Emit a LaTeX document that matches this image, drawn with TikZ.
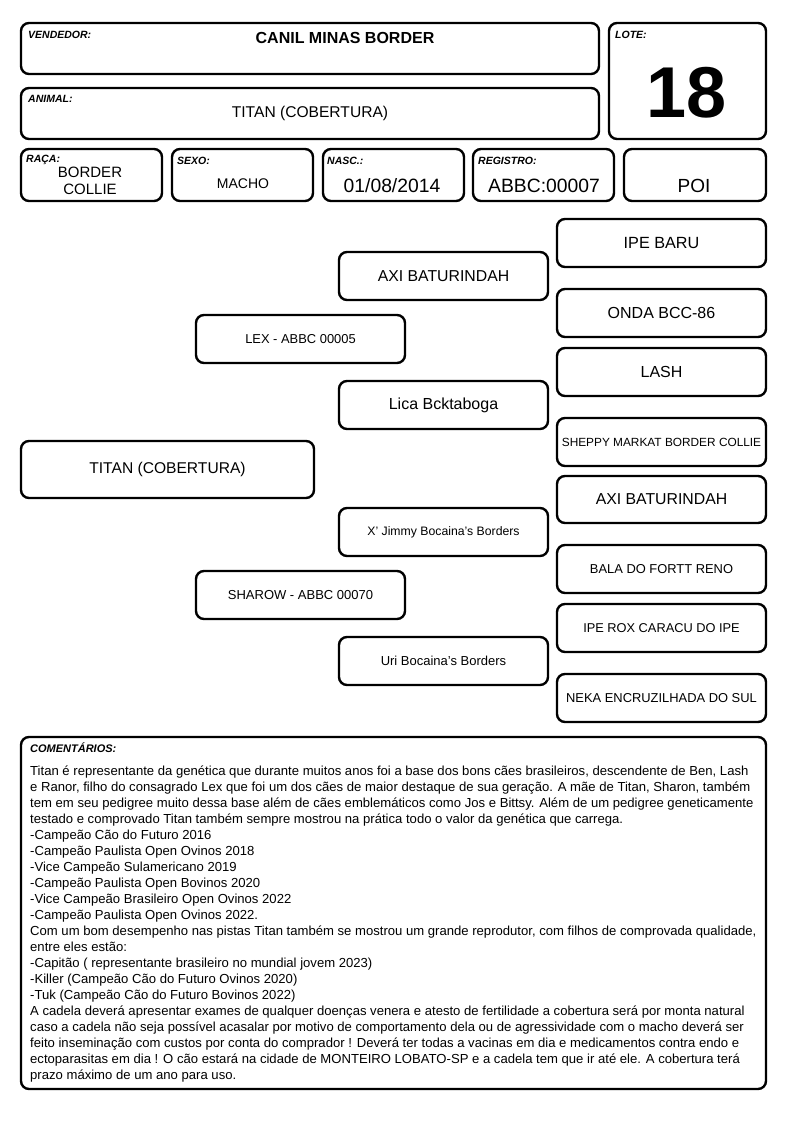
\documentclass[tikz,border=0pt]{standalone}
\usepackage{fontspec}
\setmainfont{Liberation Sans}
\begin{document}
\begin{tikzpicture}[x=1pt,y=-1pt,
  box/.style={draw=black,line width=2.4pt,rounded corners=8pt,inner sep=0pt,align=center,fill=white},
  lbl/.style={anchor=base west,inner sep=0pt,font=\fontsize{10.5}{12}\selectfont\bfseries\itshape},
  txt/.style={inner sep=0pt,align=center},
  cline/.style={anchor=base west,inner sep=0pt,font=\fontsize{13.1}{15}\selectfont}]
\useasboundingbox[fill=white] (0,0) rectangle (794,1123);
% header boxes
\node[box,minimum width=578pt,minimum height=51pt] (vend) at (310,48.5) {};
\node[box,minimum width=157pt,minimum height=116pt] (lote) at (687.5,81) {};
\node[box,minimum width=578pt,minimum height=51pt] (anim) at (310,113.5) {};
\node[box,minimum width=141pt,minimum height=52pt] (raca) at (91.5,175) {};
\node[box,minimum width=141pt,minimum height=52pt] (sexo) at (242.5,175) {};
\node[box,minimum width=141pt,minimum height=52pt] (nasc) at (393.5,175) {};
\node[box,minimum width=141pt,minimum height=52pt] (reg) at (543.5,175) {};
\node[box,minimum width=142pt,minimum height=52pt] (poi) at (695,175) {};
% header labels
\node[lbl] (lvend) at (28,39) {VENDEDOR:};
\node[lbl] (llote) at (615,39) {LOTE:};
\node[lbl] (lanim) at (28,103) {ANIMAL:};
\node[lbl] (lraca) at (26,163) {RAÇA:};
\node[lbl] (lsexo) at (177,165) {SEXO:};
\node[lbl] (lnasc) at (327,165) {NASC.:};
\node[lbl] (lreg) at (478,165) {REGISTRO:};
% header values
\node[txt,font=\fontsize{16}{18}\selectfont\bfseries] (tvend) at (345,38) {CANIL MINAS BORDER};
\node[txt,font=\fontsize{72}{72}\selectfont\bfseries] (tlote) at (687,93) {18};
\node[txt,font=\fontsize{15.6}{17}\selectfont] (tanim) at (310,113) {TITAN (COBERTURA)};
\node[txt,font=\fontsize{15}{17}\selectfont] (traca) at (90,181) {BORDER\\COLLIE};
\node[txt,font=\fontsize{14}{16}\selectfont] (tsexo) at (243,184) {MACHO};
\node[txt,font=\fontsize{19.3}{21}\selectfont] (tnasc) at (392,186) {01/08/2014};
\node[txt,font=\fontsize{19.3}{21}\selectfont] (treg) at (544,186) {ABBC:00007};
\node[txt,font=\fontsize{19}{21}\selectfont] (tpoi) at (694,186) {POI};
% pedigree column 4
\node[box,minimum width=209pt,minimum height=48pt,font=\fontsize{16.2}{18}\selectfont] (g1) at (661.5,243) {IPE BARU};
\node[box,minimum width=209pt,minimum height=48pt,font=\fontsize{16}{18}\selectfont] (g2) at (661.5,313) {ONDA BCC-86};
\node[box,minimum width=209pt,minimum height=48pt,font=\fontsize{16}{18}\selectfont] (g3) at (661.5,372) {LASH};
\node[box,minimum width=209pt,minimum height=48pt,font=\fontsize{11.85}{13}\selectfont] (g4) at (661.5,442) {SHEPPY MARKAT BORDER COLLIE};
\node[box,minimum width=209pt,minimum height=47pt,font=\fontsize{15.8}{18}\selectfont] (g5) at (661.5,499.5) {AXI BATURINDAH};
\node[box,minimum width=209pt,minimum height=48pt,font=\fontsize{12.9}{14}\selectfont] (g6) at (661.5,569) {BALA DO FORTT RENO};
\node[box,minimum width=209pt,minimum height=48pt,font=\fontsize{12.8}{14}\selectfont] (g7) at (661.5,628) {IPE ROX CARACU DO IPE};
\node[box,minimum width=209pt,minimum height=48pt,font=\fontsize{12.9}{14}\selectfont] (g8) at (661.5,698) {NEKA ENCRUZILHADA DO SUL};
% column 3
\node[box,minimum width=209pt,minimum height=48pt,font=\fontsize{15.8}{18}\selectfont] (p1) at (443.5,276) {AXI BATURINDAH};
\node[box,minimum width=209pt,minimum height=48pt,font=\fontsize{16}{18}\selectfont] (p2) at (443.5,405) {Lica Bcktaboga};
\node[box,minimum width=209pt,minimum height=48pt,font=\fontsize{12.25}{14}\selectfont] (p3) at (443.5,532) {X' Jimmy Bocaina's Borders};
\node[box,minimum width=209pt,minimum height=48pt,font=\fontsize{13}{14}\selectfont] (p4) at (443.5,661) {Uri Bocaina's Borders};
% column 2
\node[box,minimum width=209pt,minimum height=48pt,font=\fontsize{12.9}{14}\selectfont] (s1) at (300.5,339) {LEX - ABBC 00005};
\node[box,minimum width=209pt,minimum height=48pt,font=\fontsize{13}{14}\selectfont] (s2) at (300.5,595) {SHAROW - ABBC 00070};
% column 1
\node[box,minimum width=293pt,minimum height=57pt,font=\fontsize{15.6}{17}\selectfont] (main) at (167.5,469.5) {TITAN (COBERTURA)};
% comments
\node[box,minimum width=745pt,minimum height=352pt] (com) at (393.5,913) {};
\node[lbl,font=\fontsize{11}{12}\selectfont\bfseries\itshape] (lcom) at (30,752) {COMENTÁRIOS:};
\begin{scope}
\clip (24,740) rectangle (754.5,1086);
\node[cline] (c1) at (30,775) {Titan é representante da genética que durante muitos anos foi a base dos bons cães brasileiros, descendente de Ben, Lash};
\node[cline] (c2) at (30,791) {e Ranor, filho do consagrado Lex que foi um dos cães de maior destaque de sua geração. A mãe de Titan, Sharon, também};
\node[cline] (c3) at (30,807) {tem em seu pedigree muito dessa base além de cães emblemáticos como Jos e Bittsy. Além de um pedigree geneticamente};
\node[cline] (c4) at (30,823) {testado e comprovado Titan também sempre mostrou na prática todo o valor da genética que carrega.};
\node[cline] (c5) at (30,839) {-Campeão Cão do Futuro 2016};
\node[cline] (c6) at (30,855) {-Campeão Paulista Open Ovinos 2018};
\node[cline] (c7) at (30,871) {-Vice Campeão Sulamericano 2019};
\node[cline] (c8) at (30,887) {-Campeão Paulista Open Bovinos 2020};
\node[cline] (c9) at (30,903) {-Vice Campeão Brasileiro Open Ovinos 2022};
\node[cline] (c10) at (30,919) {-Campeão Paulista Open Ovinos 2022.};
\node[cline] (c11) at (30,935) {Com um bom desempenho nas pistas Titan também se mostrou um grande reprodutor, com filhos de comprovada qualidade,};
\node[cline] (c12) at (30,951) {entre eles estão:};
\node[cline] (c13) at (30,967) {-Capitão ( representante brasileiro no mundial jovem 2023)};
\node[cline] (c14) at (30,983) {-Killer (Campeão Cão do Futuro Ovinos 2020)};
\node[cline] (c15) at (30,999) {-Tuk (Campeão Cão do Futuro Bovinos 2022)};
\node[cline] (c16) at (30,1015) {A cadela deverá apresentar exames de qualquer doenças venera e atesto de fertilidade a cobertura será por monta natural};
\node[cline] (c17) at (30,1031) {caso a cadela não seja possível acasalar por motivo de comportamento dela ou de agressividade com o macho deverá ser};
\node[cline] (c18) at (30,1047) {feito inseminação com custos por conta do comprador ! Deverá ter todas a vacinas em dia e medicamentos contra endo e};
\node[cline] (c19) at (30,1063) {ectoparasitas em dia ! O cão estará na cidade de MONTEIRO LOBATO-SP e a cadela tem que ir até ele. A cobertura terá};
\node[cline] (c20) at (30,1079) {prazo máximo de um ano para uso.};
\end{scope}
\end{tikzpicture}
\end{document}
